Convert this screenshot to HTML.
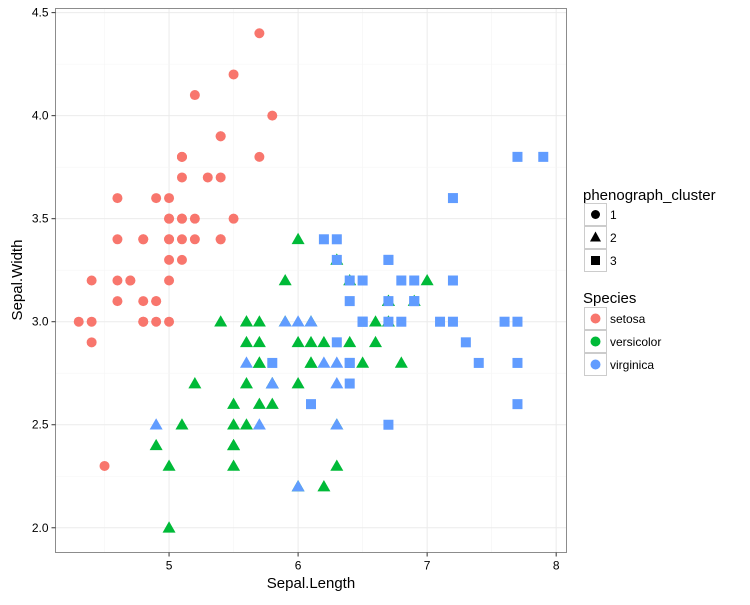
<!DOCTYPE html>
<html><head><meta charset="utf-8"><style>
body{margin:0;background:#fff;font-family:"Liberation Sans",Arial,sans-serif}
svg text{font-family:"Liberation Sans",Arial,sans-serif}
</style></head><body>
<svg id="chart" width="750" height="600">
<g id="grid"></g>
<g id="pts"></g>
<rect x="55.5" y="8.5" width="511" height="544" fill="none" stroke="#8c8c8c" stroke-width="1"/>
<g id="axes"></g>
<text x="311" y="588" text-anchor="middle" font-size="15">Sepal.Length</text>
<text transform="translate(22,280) rotate(-90)" text-anchor="middle" font-size="15">Sepal.Width</text>
<g>
<text x="583" y="200" font-size="15">phenograph_cluster</text>
<rect x="584.5" y="203.5" width="22" height="22" fill="#fff" stroke="#ccc"/>
<circle cx="595.5" cy="214.5" r="4.5" fill="#000"/>
<text x="610" y="219" font-size="12">1</text>
<rect x="584.5" y="226.5" width="22" height="22" fill="#fff" stroke="#ccc"/>
<polygon points="595.5,231.5 601,241.5 590,241.5" fill="#000"/>
<text x="610" y="242" font-size="12">2</text>
<rect x="584.5" y="249.5" width="22" height="22" fill="#fff" stroke="#ccc"/>
<rect x="591" y="256" width="9" height="9" fill="#000"/>
<text x="610" y="265" font-size="12">3</text>
</g>
<g>
<text x="583" y="303" font-size="15">Species</text>
<rect x="584.5" y="307.5" width="22" height="22" fill="#fff" stroke="#ccc"/>
<circle cx="595.5" cy="318.5" r="5" fill="#F8766D"/>
<text x="610" y="323" font-size="12">setosa</text>
<rect x="584.5" y="330.5" width="22" height="22" fill="#fff" stroke="#ccc"/>
<circle cx="595.5" cy="341.5" r="5" fill="#00BA38"/>
<text x="610" y="346" font-size="12">versicolor</text>
<rect x="584.5" y="353.5" width="22" height="22" fill="#fff" stroke="#ccc"/>
<circle cx="595.5" cy="364.5" r="5" fill="#619CFF"/>
<text x="610" y="369" font-size="12">virginica</text>
</g>
</svg>
<script>
const xTicks=[5,6,7,8];
const yTicks=[2.0,2.5,3.0,3.5,4.0,4.5];
const setosaX=[5.1,4.9,4.7,4.6,5.0,5.4,4.6,5.0,4.4,4.9,5.4,4.8,4.8,4.3,5.8,5.7,5.4,5.1,5.7,5.1,5.4,5.1,4.6,5.1,4.8,5.0,5.0,5.2,5.2,4.7,4.8,5.4,5.2,5.5,4.9,5.0,5.5,4.9,4.4,5.1,5.0,4.5,4.4,5.0,5.1,4.8,5.1,4.6,5.3,5.0];
const setosaY=[3.5,3.0,3.2,3.1,3.6,3.9,3.4,3.4,2.9,3.1,3.7,3.4,3.0,3.0,4.0,4.4,3.9,3.5,3.8,3.8,3.4,3.7,3.6,3.3,3.4,3.0,3.4,3.5,3.4,3.2,3.1,3.4,4.1,4.2,3.1,3.2,3.5,3.6,3.0,3.4,3.5,2.3,3.2,3.5,3.8,3.0,3.8,3.2,3.7,3.3];
const setosaCluster=Array(50).fill(1);
const versiX=[7.0,6.4,6.9,5.5,6.5,5.7,6.3,4.9,6.6,5.2,5.0,5.9,6.0,6.1,5.6,6.7,5.6,5.8,6.2,5.6,5.9,6.1,6.3,6.1,6.4,6.6,6.8,6.7,6.0,5.7,5.5,5.5,5.8,6.0,5.4,6.0,6.7,6.3,5.6,5.5,5.5,6.1,5.8,5.0,5.6,5.7,5.7,6.2,5.1,5.7];
const versiY=[3.2,3.2,3.1,2.3,2.8,2.8,3.3,2.4,2.9,2.7,2.0,3.0,2.2,2.9,2.9,3.1,3.0,2.7,2.2,2.5,3.2,2.8,2.5,2.8,2.9,3.0,2.8,3.0,2.9,2.6,2.4,2.4,2.7,2.7,3.0,3.4,3.1,2.3,3.0,2.5,2.6,3.0,2.6,2.3,2.7,3.0,2.9,2.9,2.5,2.8];
const versiCluster=Array(50).fill(2);
const virgX=[6.3,5.8,7.1,6.3,6.5,7.6,4.9,7.3,6.7,7.2,6.5,6.4,6.8,5.7,5.8,6.4,6.5,7.7,7.7,6.0,6.9,5.6,7.7,6.3,6.7,7.2,6.2,6.1,6.4,7.2,7.4,7.9,6.4,6.3,6.1,7.7,6.3,6.4,6.0,6.9,6.7,6.9,5.8,6.8,6.7,6.7,6.3,6.5,6.2,5.9];
const virgY=[3.3,2.7,3.0,2.9,3.0,3.0,2.5,2.9,2.5,3.6,3.2,2.7,3.0,2.5,2.8,3.2,3.0,3.8,2.6,2.2,3.2,2.8,2.8,2.7,3.3,3.2,2.8,3.0,2.8,3.0,2.8,3.8,2.8,2.8,2.6,3.0,3.4,3.1,3.0,3.1,3.1,3.1,2.7,3.2,3.3,3.0,2.5,3.0,3.4,3.0];
const virgCluster=[3,2,3,3,3,3,2,3,3,3,3,3,3,2,3,3,3,3,3,2,3,2,3,2,3,3,2,2,3,3,3,3,3,2,3,3,3,3,2,3,3,3,2,3,3,3,2,3,3,2];
const speciesColors=["#F8766D","#00BA38","#619CFF"];

const xMin=4.12,xMax=8.08,yMin=1.88,yMax=4.52;
const L=55.5,R=566.5,T=8.5,B=552.5;
function sx(v){return L+(v-xMin)/(xMax-xMin)*(R-L);}
function sy(v){return B-(v-yMin)/(yMax-yMin)*(B-T);}
const NS="http://www.w3.org/2000/svg";
function mk(tag,attrs,parent){const e=document.createElementNS(NS,tag);for(const k in attrs)e.setAttribute(k,attrs[k]);parent.appendChild(e);return e;}
const grid=document.getElementById('grid'),axes=document.getElementById('axes'),pts=document.getElementById('pts');
mk('rect',{x:L,y:T,width:R-L,height:B-T,fill:'#fff'},grid);
for(let v=4.5;v<=8.01;v+=0.5){const major=Math.abs(v-Math.round(v))<1e-6;
 const l=mk('line',{x1:sx(v),x2:sx(v),y1:T,y2:B,stroke:major?'#ebebeb':'#f5f5f5','stroke-width':major?1:0.6},grid);
 
 }
for(let v=2.0;v<=4.51;v+=0.25){const major=Math.abs(v*2-Math.round(v*2))<1e-6;
 const l=mk('line',{x1:L,x2:R,y1:sy(v),y2:sy(v),stroke:major?'#ebebeb':'#f5f5f5','stroke-width':major?1:0.6},grid);
 
 }
xTicks.forEach(v=>{mk('line',{x1:sx(v),x2:sx(v),y1:B,y2:B+4,stroke:'#333'},axes);
 const t=mk('text',{x:sx(v),y:B+17,'text-anchor':'middle','font-size':12,fill:'#000'},axes);t.textContent=v;
 
 });
yTicks.forEach(v=>{mk('line',{x1:L-4,x2:L,y1:sy(v),y2:sy(v),stroke:'#333'},axes);
 const t=mk('text',{x:L-7,y:sy(v)+4,'text-anchor':'end','font-size':12,fill:'#000'},axes);t.textContent=v.toFixed(1);
 
 });
function draw(xs,ys,cl,color,name){
 xs.forEach((xv,i)=>{const cx=sx(xv),cy=sy(ys[i]);let e;
  if(cl[i]===1)e=mk('circle',{cx:cx,cy:cy,r:5,fill:color},pts);
  else if(cl[i]===2)e=mk('polygon',{points:`${cx},${cy-6.5} ${cx+6.5},${cy+4.8} ${cx-6.5},${cy+4.8}`,fill:color},pts);
  else e=mk('rect',{x:cx-5,y:cy-5,width:10,height:10,fill:color},pts);
  
  });}
draw(setosaX,setosaY,setosaCluster,speciesColors[0],'setosa');
draw(versiX,versiY,versiCluster,speciesColors[1],'versicolor');
draw(virgX,virgY,virgCluster,speciesColors[2],'virginica');
</script>
</body></html>
